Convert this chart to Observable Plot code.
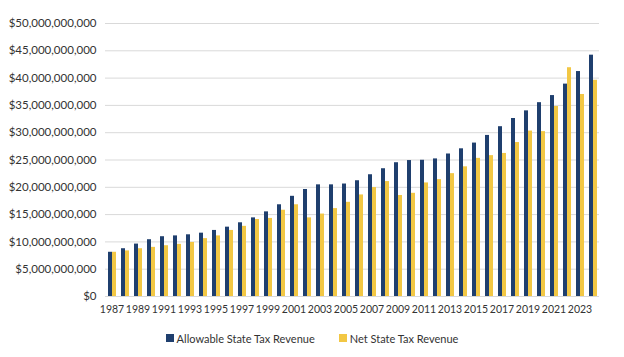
<!DOCTYPE html>
<html>
<head>
<meta charset="utf-8">
<script src="https://cdn.jsdelivr.net/npm/d3@7"></script>
<script src="https://cdn.jsdelivr.net/npm/@observablehq/plot@0.6"></script>
<style>
  html, body { margin: 0; padding: 0; background: #fff; }
  body { width: 624px; height: 357px; overflow: hidden; font-family: Lato, "Open Sans", sans-serif; }
  #legend { display: flex; justify-content: center; align-items: center; gap: 24px; font-size: 11px; color: #333; height: 30px; margin-top: 1px; }
  .item { display: flex; align-items: center; gap: 3px; }
  .sw { width: 8px; height: 8px; display: inline-block; }
</style>
</head>
<body>
<div id="chart"></div>
<div id="legend"></div>
<script>
const years = d3.range(1987, 2025);
const seriesNames = ["Allowable State Tax Revenue", "Net State Tax Revenue"];
const seriesColors = ["#1f3f6e", "#f2c744"];
// values in billions of dollars
const allowable = [8.1, 8.75, 9.6, 10.4, 10.95, 11.1, 11.3, 11.6, 12.1, 12.7,
  13.5, 14.4, 15.5, 16.8, 18.35, 19.6, 20.45, 20.45, 20.6, 21.2,
  22.3, 23.4, 24.5, 24.9, 24.95, 25.2, 26.1, 27.05, 28.1, 29.5,
  31.1, 32.6, 34.0, 35.5, 36.8, 38.9, 41.2, 44.2];
const net = [8.1, 8.35, 8.75, 9.0, 9.3, 9.55, 9.9, 10.6, 11.1, 12.1,
  12.85, 14.1, 14.3, 15.8, 16.8, 14.4, 15.1, 16.1, 17.25, 18.6,
  19.95, 21.05, 18.5, 18.9, 20.8, 21.4, 22.5, 23.75, 25.3, 25.8,
  26.2, 28.2, 30.3, 30.2, 34.8, 41.9, 37.0, 39.6];
const yTicks = d3.range(0, 50e9 + 1, 5e9);

const data = [];
years.forEach((y, i) => {
  data.push({year: y, series: seriesNames[0], value: allowable[i] * 1e9});
  data.push({year: y, series: seriesNames[1], value: net[i] * 1e9});
});

const fmt = d3.format(",");
const chart = Plot.plot({
  width: 624,
  height: 322,
  marginTop: 23,
  marginBottom: 26,
  marginLeft: 100,
  marginRight: 21,
  style: {fontFamily: "Lato, 'Open Sans', sans-serif", fontSize: "11px", color: "#333"},
  fx: {domain: years, padding: 0, label: null},
  x: {domain: seriesNames, paddingInner: 0, paddingOuter: 0.62, axis: null},
  y: {domain: [0, 50e9], label: null},
  color: {domain: seriesNames, range: seriesColors},
  marks: [
    Plot.gridY(yTicks, {stroke: "#d9d9d9", strokeOpacity: 1, strokeWidth: 1}),
    Plot.axisY(yTicks, {tickSize: 0, tickPadding: 9, tickFormat: d => "$" + fmt(d), label: null, fill: "#333", fontSize: 11.5}),
    Plot.axisFx({anchor: "bottom", tickSize: 0, tickPadding: 9, label: null, tickFormat: d => (d % 2 === 1 ? String(d) : ""), fill: "#333", fontSize: 10.5}),
    Plot.barY(data, {fx: "year", x: "series", y: "value", fill: "series", inset: 0})
  ]
});
document.getElementById("chart").appendChild(chart);

const legend = document.getElementById("legend");
seriesNames.forEach((n, i) => {
  const it = document.createElement("div");
  it.className = "item";
  const sw = document.createElement("span");
  sw.className = "sw";
  sw.style.background = seriesColors[i];
  const t = document.createElement("span");
  t.textContent = n;
  it.appendChild(sw); it.appendChild(t);
  legend.appendChild(it);
});
</script>
</body>
</html>
